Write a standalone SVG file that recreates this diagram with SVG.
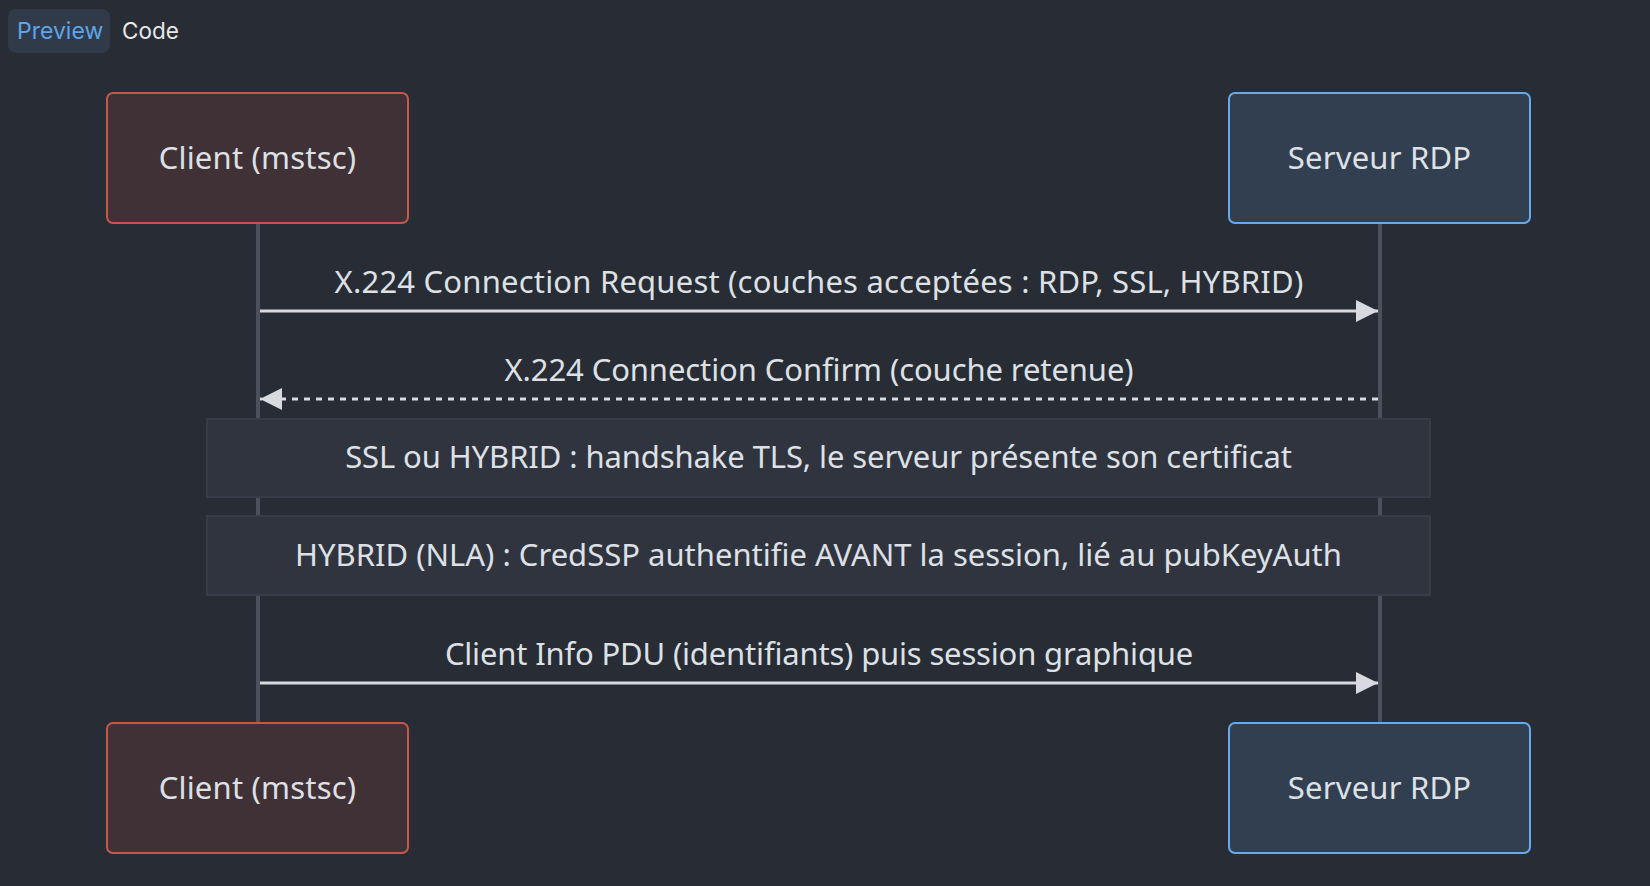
<svg xmlns="http://www.w3.org/2000/svg" width="1650" height="886" viewBox="0 0 1650 886">
<defs>
<style>
.bg{fill:#282c34}
.t{font-family:"Noto Sans","Liberation Sans",sans-serif;font-size:31px;letter-spacing:0.2px;fill:#dde0e5;text-anchor:middle}
.n0{letter-spacing:0px}
.nm{letter-spacing:-0.1px}
.nm2{letter-spacing:-0.17px}
.client rect{fill:#403136;stroke:#c9564b;stroke-width:2}
.server rect{fill:#323f50;stroke:#64aaec;stroke-width:2}
.life{stroke:#4b505c;stroke-width:4}
.msg{stroke:#d8dadf;stroke-width:3;fill:none}
.dash{stroke-dasharray:6 6}
.note rect{fill:#30343f;stroke:#383c48;stroke-width:2}
</style>
<marker id="ah" viewBox="0 0 22 22" refX="22" refY="11" markerWidth="22" markerHeight="22" markerUnits="userSpaceOnUse" orient="auto-start-reverse">
<path d="M0,0 L22,11 L0,22 Z" fill="#d8dadf"/>
</marker>
</defs>
<rect class="bg" x="0" y="0" width="1650" height="886"/>
<g id="tabs">
<rect x="8" y="9" width="102" height="44" rx="8" fill="#313a48"/>
<text x="17" y="39" font-family="Inter,'Noto Sans',sans-serif" font-size="23" fill="#5da5e8">Preview</text>
<text x="122" y="39" font-family="Inter,'Noto Sans',sans-serif" font-size="22.5" fill="#e8e8e8">Code</text>
</g>
<g id="lifelines">
<line class="life" x1="258" y1="223" x2="258" y2="723"/>
<line class="life" x1="1380" y1="223" x2="1380" y2="723"/>
</g>
<g id="client-top" class="client">
<rect x="107" y="93" width="301" height="130" rx="6"/>
<text class="t" x="257.5" y="169">Client (mstsc)</text>
</g>
<g id="server-top" class="server">
<rect x="1229" y="93" width="301" height="130" rx="6"/>
<text class="t" x="1379.5" y="169">Serveur RDP</text>
</g>
<g id="client-bottom" class="client">
<rect x="107" y="723" width="301" height="130" rx="6"/>
<text class="t" x="257.5" y="799">Client (mstsc)</text>
</g>
<g id="server-bottom" class="server">
<rect x="1229" y="723" width="301" height="130" rx="6"/>
<text class="t" x="1379.5" y="799">Serveur RDP</text>
</g>
<g id="note-tls" class="note">
<rect x="207" y="419" width="1223" height="78"/>
<text class="t nm" x="818.5" y="468">SSL ou HYBRID : handshake TLS, le serveur présente son certificat</text>
</g>
<g id="note-nla" class="note">
<rect x="207" y="516" width="1223" height="79"/>
<text class="t n0" x="818.5" y="566">HYBRID (NLA) : CredSSP authentifie AVANT la session, lié au pubKeyAuth</text>
</g>
<g id="connectors">
<line class="msg" x1="260" y1="311" x2="1378" y2="311" marker-end="url(#ah)"/>
<text class="t" x="819" y="293">X.224 Connection Request (couches acceptées : RDP, SSL, HYBRID)</text>
<line class="msg dash" x1="1378" y1="399" x2="260" y2="399" marker-end="url(#ah)"/>
<text class="t nm" x="819" y="381">X.224 Connection Confirm (couche retenue)</text>
<line class="msg" x1="260" y1="683" x2="1378" y2="683" marker-end="url(#ah)"/>
<text class="t nm2" x="819" y="665">Client Info PDU (identifiants) puis session graphique</text>
</g>
</svg>
